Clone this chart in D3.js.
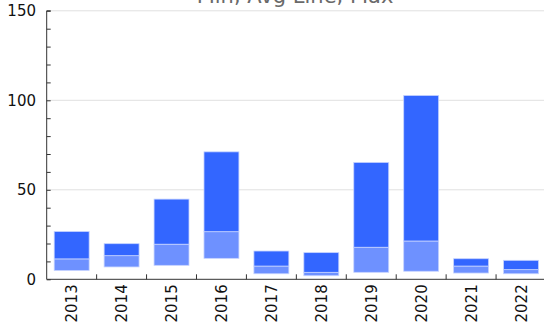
<!DOCTYPE html>
<html><head><meta charset="utf-8">
<script src="https://cdn.jsdelivr.net/npm/d3@7"></script>
<style>body{margin:0;background:#fff}svg{display:block;font-family:"DejaVu Sans",sans-serif}</style>
</head><body><svg id="c" width="544" height="326"></svg>
<script>
const years = ["2013","2014","2015","2016","2017","2018","2019","2020","2021","2022"];
const minVals = [4.9, 6.9, 7.8, 11.7, 3.1, 2.0, 3.9, 4.5, 3.5, 3.1];
const avgVals = [11.4, 13.2, 19.6, 26.6, 7.4, 3.9, 17.9, 21.4, 7.4, 5.4];
const maxVals = [26.7, 19.9, 44.8, 71.2, 15.8, 14.9, 65.3, 102.7, 11.5, 10.6];
const yTicks = [0, 50, 100, 150];
const title = "Min, Avg Line, Max";

const svg = d3.select("#c");
const mLeft = 46.7, mRight = 546, mTop = 10.8, mBottom = 279.3;
const x = d3.scaleBand().domain(years).range([mLeft, mRight]).paddingInner(0.3).paddingOuter(0.15);
const xb = d3.scaleBand().domain(years).range([mLeft, mRight]);
const y = d3.scaleLinear().domain([0, 150]).range([mBottom, mTop]);

// gridlines
svg.append("g").selectAll("line").data(yTicks.slice(1)).join("line")
  .attr("x1", mLeft).attr("x2", 544).attr("y1", d => y(d)).attr("y2", d => y(d))
  .attr("stroke", "#e0e0e0").attr("stroke-width", 1);

// title (clipped at top, as in the reference)
svg.append("text").attr("x", 295).attr("y", 2.5).attr("text-anchor", "middle")
  .attr("font-size", 21).attr("fill", "#6a6a6a").text(title);

// bars
const g = svg.append("g");
g.selectAll("rect.lo").data(years).join("rect").attr("class", "lo")
  .attr("x", d => x(d)).attr("width", x.bandwidth())
  .attr("y", (d, i) => y(avgVals[i])).attr("height", (d, i) => y(minVals[i]) - y(avgVals[i]))
  .attr("fill", "#6e91ff").attr("stroke", "#c6d3ff").attr("stroke-width", 0.8);
g.selectAll("rect.hi").data(years).join("rect").attr("class", "hi")
  .attr("x", d => x(d)).attr("width", x.bandwidth())
  .attr("y", (d, i) => y(maxVals[i])).attr("height", (d, i) => y(avgVals[i]) - y(maxVals[i]))
  .attr("fill", "#3366ff").attr("stroke", "#c6d3ff").attr("stroke-width", 0.8);

// y axis
const ya = svg.append("g").attr("transform", `translate(${mLeft},0)`)
  .call(d3.axisRight(y).tickValues(d3.range(0, 151, 10)).tickSize(4).tickFormat(""));
ya.select(".domain").attr("stroke", "#333").attr("d", `M4,${mTop}H0V${mBottom}`);
ya.selectAll(".tick line").attr("stroke", "#333");
svg.append("g").selectAll("text").data(yTicks).join("text")
  .attr("x", 36).attr("y", d => y(d) + 5.5).attr("text-anchor", "end")
  .attr("font-size", 15).attr("fill", "#111").text(d => d);

// x axis
const xa = svg.append("g").attr("transform", `translate(0,${mBottom})`);
xa.append("line").attr("x1", mLeft).attr("x2", 544).attr("y1", 0).attr("y2", 0).attr("stroke", "#333");
xa.selectAll("line.t").data(years.slice(1)).join("line").attr("class", "t")
  .attr("x1", d => xb(d)).attr("x2", d => xb(d)).attr("y1", 0).attr("y2", -5).attr("stroke", "#333");
xa.selectAll("text").data(years).join("text")
  .attr("transform", d => `translate(${xb(d) + xb.bandwidth() / 2 + 5.5},5) rotate(-90)`)
  .attr("text-anchor", "end").attr("font-size", 15).attr("fill", "#111").text(d => d);
</script></body></html>
